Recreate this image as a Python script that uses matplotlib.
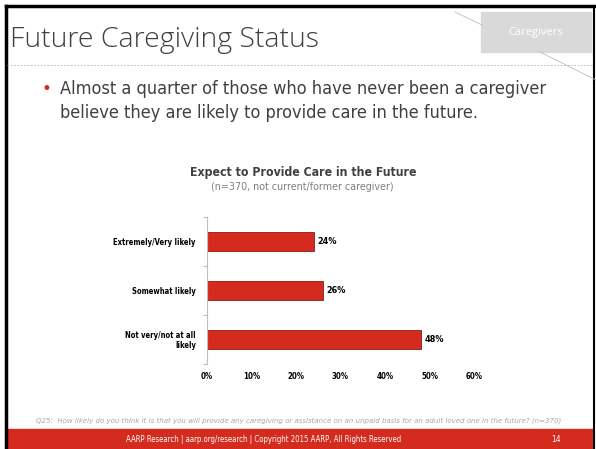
import matplotlib.pyplot as plt
import numpy as np

# data
categories = ['Extremely/Very likely', 'Somewhat likely', 'Not very/not at all\nlikely']
values = [24, 26, 48]
value_labels = ['24%', '26%', '48%']
xticks = [0, 10, 20, 30, 40, 50, 60]
xtick_labels = ['0%', '10%', '20%', '30%', '40%', '50%', '60%']

red = '#D52B1E'
dark = '#404040'
cond = dict(family='DejaVu Sans', fontstretch='condensed')

fig = plt.figure(figsize=(5.96, 4.49), dpi=100)
W, H = 596, 449

def fx(x):
    return x / W

def fy(y):
    return 1 - y / H

# slide frame
fig.add_artist(plt.Line2D([fx(6), fx(6)], [0, fy(6)], color='black', lw=2.5))
fig.add_artist(plt.Line2D([fx(6), fx(594)], [fy(6), fy(6)], color='black', lw=2.5))
fig.add_artist(plt.Line2D([fx(594), fx(594)], [0, fy(6)], color='black', lw=1.5))

# decorative thin lines
fig.add_artist(plt.Line2D([fx(455), fx(482)], [fy(12), fy(25)], color='#c8b8b0', lw=0.6))
fig.add_artist(plt.Line2D([fx(540), fx(596)], [fy(52), fy(80)], color='#c8b8b0', lw=0.6))

# header
fig.text(fx(10), fy(40), 'Future Caregiving Status', fontsize=20.5, color=dark,
         family=['Open Sans', 'DejaVu Sans'], fontweight='light', va='center', ha='left')
fig.add_artist(plt.Rectangle((fx(481), fy(52)), fx(110), 40 / H, color='#d9d9d9'))
fig.text(fx(536), fy(33), 'Caregivers', fontsize=8, color='white', ha='center', va='center',
         family=['Open Sans', 'DejaVu Sans'])
fig.add_artist(plt.Line2D([fx(7), fx(593)], [fy(65), fy(65)], color='#b0b0b0', lw=0.6, ls=(0, (2, 2))))

# bullet
fig.text(fx(42), fy(89), '•', fontsize=12, color=red, va='center', ha='left')
fig.text(fx(60), fy(89), 'Almost a quarter of those who have never been a caregiver',
         fontsize=13, color=dark, va='center', ha='left', **cond)
fig.text(fx(60), fy(113), 'believe they are likely to provide care in the future.',
         fontsize=13, color=dark, va='center', ha='left', **cond)

# chart
ax = fig.add_axes([fx(207), fy(364), fx(474) - fx(207), (364 - 217) / H])
y = np.arange(len(categories))
ax.barh(y, values, height=0.4, color=red, edgecolor='#8b1a12', linewidth=0.6)
for yi, v, lab in zip(y, values, value_labels):
    ax.text(v + 0.9, yi, lab, va='center', ha='left', fontsize=6.5, fontweight='bold',
            color='black', **cond)
ax.set_ylim(len(categories) - 0.5, -0.5)
ax.set_xlim(0, 60)
ax.set_xticks(xticks)
ax.set_xticklabels(xtick_labels, fontsize=5.7, fontweight='bold', **cond)
ax.set_yticks(y)
ax.set_yticklabels(categories, fontsize=5.5, fontweight='bold', linespacing=1.0, **cond)
ax.set_yticks(np.arange(len(categories) + 1) - 0.5, minor=True)
ax.tick_params(axis='y', which='major', length=0, pad=8)
ax.tick_params(axis='y', which='minor', length=3, color='#bfbfbf', width=0.8)
ax.tick_params(axis='x', length=0, pad=6)
for s in ['top', 'right', 'bottom']:
    ax.spines[s].set_visible(False)
ax.spines['left'].set_color('#bfbfbf')
ax.spines['left'].set_linewidth(0.8)

fig.text(fx(303), fy(172), 'Expect to Provide Care in the Future', fontsize=8.8, fontweight='bold',
         color=dark, ha='center', va='center', **cond)
fig.text(fx(302), fy(187), '(n=370, not current/former caregiver)', fontsize=7.7,
         color='#7f7f7f', ha='center', va='center', **cond)

# footnote
fig.text(fx(36), fy(421), 'Q25:  How likely do you think it is that you will provide any caregiving or assistance '
         'on an unpaid basis for an adult loved one in the future? (n=370)',
         fontsize=5, style='italic', color='#a6a6a6', ha='left', va='center')

# footer band
fig.add_artist(plt.Rectangle((fx(7), 0), fx(586), (449 - 429) / H, color=red))
fig.text(fx(264), fy(439), 'AARP Research | aarp.org/research | Copyright 2015 AARP, All Rights Reserved',
         fontsize=5.6, color='white', ha='center', va='center', **cond)
fig.text(fx(556), fy(439), '14', fontsize=6, color='white', ha='center', va='center', **cond)

fig.savefig('out.png', dpi=100, facecolor='white')
